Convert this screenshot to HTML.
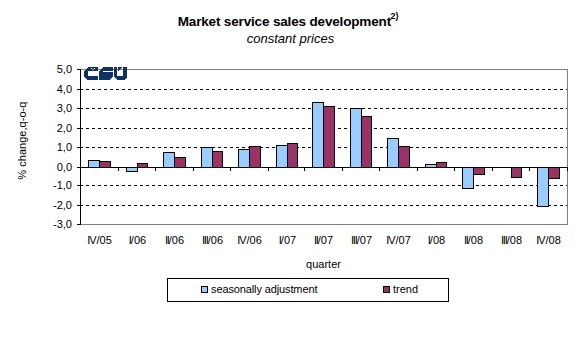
<!DOCTYPE html>
<html><head><meta charset="utf-8"><style>
html,body{margin:0;padding:0;background:#fff;}
body{width:576px;height:340px;position:relative;overflow:hidden;font-family:"Liberation Sans",sans-serif;color:#000;}
svg{position:absolute;left:0;top:0;}
.t{position:absolute;white-space:nowrap;}
#title{left:0.2px;width:576px;text-align:center;top:14px;font-size:13.5px;letter-spacing:-0.16px;font-weight:bold;line-height:16px;}
#title sup{font-size:9px;vertical-align:0;position:relative;top:-6.7px;left:-0.4px;}
#sub{left:2.5px;width:576px;text-align:center;top:30.7px;font-size:13px;font-style:italic;line-height:16px;}
.yl{position:absolute;right:504px;font-size:11px;line-height:14px;text-align:right;white-space:nowrap;}
.xl{position:absolute;top:233px;width:60px;text-align:center;font-size:11px;line-height:14px;white-space:nowrap;}
.ii{letter-spacing:-1.1px;}
#quarter{left:273.5px;width:100px;text-align:center;top:257px;font-size:11px;line-height:14px;}
#ytitle{left:22px;top:140.5px;font-size:11px;letter-spacing:0.07px;line-height:14px;transform:translate(-50%,-50%) rotate(-90deg);}
#legend{position:absolute;left:167px;top:278px;width:280px;height:22px;border:1px solid #000;}
.key{position:absolute;width:5px;height:5px;border:1px solid #000;}
.lt{position:absolute;font-size:11px;line-height:14px;white-space:nowrap;}
</style></head><body>
<svg width="576" height="340" viewBox="0 0 576 340" shape-rendering="crispEdges">
<rect x="81" y="69" width="487" height="1" fill="#808080"/>
<rect x="567" y="69" width="1" height="156" fill="#808080"/>
<rect x="81" y="224" width="487" height="1" fill="#808080"/>
<rect x="80" y="89" width="3" height="1" fill="#000"/>
<rect x="86" y="89" width="3" height="1" fill="#000"/>
<rect x="92" y="89" width="3" height="1" fill="#000"/>
<rect x="98" y="89" width="3" height="1" fill="#000"/>
<rect x="104" y="89" width="3" height="1" fill="#000"/>
<rect x="110" y="89" width="3" height="1" fill="#000"/>
<rect x="116" y="89" width="3" height="1" fill="#000"/>
<rect x="122" y="89" width="3" height="1" fill="#000"/>
<rect x="128" y="89" width="3" height="1" fill="#000"/>
<rect x="134" y="89" width="3" height="1" fill="#000"/>
<rect x="140" y="89" width="3" height="1" fill="#000"/>
<rect x="146" y="89" width="3" height="1" fill="#000"/>
<rect x="152" y="89" width="3" height="1" fill="#000"/>
<rect x="158" y="89" width="3" height="1" fill="#000"/>
<rect x="164" y="89" width="3" height="1" fill="#000"/>
<rect x="170" y="89" width="3" height="1" fill="#000"/>
<rect x="176" y="89" width="3" height="1" fill="#000"/>
<rect x="182" y="89" width="3" height="1" fill="#000"/>
<rect x="188" y="89" width="3" height="1" fill="#000"/>
<rect x="194" y="89" width="3" height="1" fill="#000"/>
<rect x="200" y="89" width="3" height="1" fill="#000"/>
<rect x="206" y="89" width="3" height="1" fill="#000"/>
<rect x="212" y="89" width="3" height="1" fill="#000"/>
<rect x="218" y="89" width="3" height="1" fill="#000"/>
<rect x="224" y="89" width="3" height="1" fill="#000"/>
<rect x="230" y="89" width="3" height="1" fill="#000"/>
<rect x="236" y="89" width="3" height="1" fill="#000"/>
<rect x="242" y="89" width="3" height="1" fill="#000"/>
<rect x="248" y="89" width="3" height="1" fill="#000"/>
<rect x="254" y="89" width="3" height="1" fill="#000"/>
<rect x="260" y="89" width="3" height="1" fill="#000"/>
<rect x="266" y="89" width="3" height="1" fill="#000"/>
<rect x="272" y="89" width="3" height="1" fill="#000"/>
<rect x="278" y="89" width="3" height="1" fill="#000"/>
<rect x="284" y="89" width="3" height="1" fill="#000"/>
<rect x="290" y="89" width="3" height="1" fill="#000"/>
<rect x="296" y="89" width="3" height="1" fill="#000"/>
<rect x="302" y="89" width="3" height="1" fill="#000"/>
<rect x="308" y="89" width="3" height="1" fill="#000"/>
<rect x="314" y="89" width="3" height="1" fill="#000"/>
<rect x="320" y="89" width="3" height="1" fill="#000"/>
<rect x="326" y="89" width="3" height="1" fill="#000"/>
<rect x="332" y="89" width="3" height="1" fill="#000"/>
<rect x="338" y="89" width="3" height="1" fill="#000"/>
<rect x="344" y="89" width="3" height="1" fill="#000"/>
<rect x="350" y="89" width="3" height="1" fill="#000"/>
<rect x="356" y="89" width="3" height="1" fill="#000"/>
<rect x="362" y="89" width="3" height="1" fill="#000"/>
<rect x="368" y="89" width="3" height="1" fill="#000"/>
<rect x="374" y="89" width="3" height="1" fill="#000"/>
<rect x="380" y="89" width="3" height="1" fill="#000"/>
<rect x="386" y="89" width="3" height="1" fill="#000"/>
<rect x="392" y="89" width="3" height="1" fill="#000"/>
<rect x="398" y="89" width="3" height="1" fill="#000"/>
<rect x="404" y="89" width="3" height="1" fill="#000"/>
<rect x="410" y="89" width="3" height="1" fill="#000"/>
<rect x="416" y="89" width="3" height="1" fill="#000"/>
<rect x="422" y="89" width="3" height="1" fill="#000"/>
<rect x="428" y="89" width="3" height="1" fill="#000"/>
<rect x="434" y="89" width="3" height="1" fill="#000"/>
<rect x="440" y="89" width="3" height="1" fill="#000"/>
<rect x="446" y="89" width="3" height="1" fill="#000"/>
<rect x="452" y="89" width="3" height="1" fill="#000"/>
<rect x="458" y="89" width="3" height="1" fill="#000"/>
<rect x="464" y="89" width="3" height="1" fill="#000"/>
<rect x="470" y="89" width="3" height="1" fill="#000"/>
<rect x="476" y="89" width="3" height="1" fill="#000"/>
<rect x="482" y="89" width="3" height="1" fill="#000"/>
<rect x="488" y="89" width="3" height="1" fill="#000"/>
<rect x="494" y="89" width="3" height="1" fill="#000"/>
<rect x="500" y="89" width="3" height="1" fill="#000"/>
<rect x="506" y="89" width="3" height="1" fill="#000"/>
<rect x="512" y="89" width="3" height="1" fill="#000"/>
<rect x="518" y="89" width="3" height="1" fill="#000"/>
<rect x="524" y="89" width="3" height="1" fill="#000"/>
<rect x="530" y="89" width="3" height="1" fill="#000"/>
<rect x="536" y="89" width="3" height="1" fill="#000"/>
<rect x="542" y="89" width="3" height="1" fill="#000"/>
<rect x="548" y="89" width="3" height="1" fill="#000"/>
<rect x="554" y="89" width="3" height="1" fill="#000"/>
<rect x="560" y="89" width="3" height="1" fill="#000"/>
<rect x="566" y="89" width="1" height="1" fill="#000"/>
<rect x="80" y="108" width="3" height="1" fill="#000"/>
<rect x="86" y="108" width="3" height="1" fill="#000"/>
<rect x="92" y="108" width="3" height="1" fill="#000"/>
<rect x="98" y="108" width="3" height="1" fill="#000"/>
<rect x="104" y="108" width="3" height="1" fill="#000"/>
<rect x="110" y="108" width="3" height="1" fill="#000"/>
<rect x="116" y="108" width="3" height="1" fill="#000"/>
<rect x="122" y="108" width="3" height="1" fill="#000"/>
<rect x="128" y="108" width="3" height="1" fill="#000"/>
<rect x="134" y="108" width="3" height="1" fill="#000"/>
<rect x="140" y="108" width="3" height="1" fill="#000"/>
<rect x="146" y="108" width="3" height="1" fill="#000"/>
<rect x="152" y="108" width="3" height="1" fill="#000"/>
<rect x="158" y="108" width="3" height="1" fill="#000"/>
<rect x="164" y="108" width="3" height="1" fill="#000"/>
<rect x="170" y="108" width="3" height="1" fill="#000"/>
<rect x="176" y="108" width="3" height="1" fill="#000"/>
<rect x="182" y="108" width="3" height="1" fill="#000"/>
<rect x="188" y="108" width="3" height="1" fill="#000"/>
<rect x="194" y="108" width="3" height="1" fill="#000"/>
<rect x="200" y="108" width="3" height="1" fill="#000"/>
<rect x="206" y="108" width="3" height="1" fill="#000"/>
<rect x="212" y="108" width="3" height="1" fill="#000"/>
<rect x="218" y="108" width="3" height="1" fill="#000"/>
<rect x="224" y="108" width="3" height="1" fill="#000"/>
<rect x="230" y="108" width="3" height="1" fill="#000"/>
<rect x="236" y="108" width="3" height="1" fill="#000"/>
<rect x="242" y="108" width="3" height="1" fill="#000"/>
<rect x="248" y="108" width="3" height="1" fill="#000"/>
<rect x="254" y="108" width="3" height="1" fill="#000"/>
<rect x="260" y="108" width="3" height="1" fill="#000"/>
<rect x="266" y="108" width="3" height="1" fill="#000"/>
<rect x="272" y="108" width="3" height="1" fill="#000"/>
<rect x="278" y="108" width="3" height="1" fill="#000"/>
<rect x="284" y="108" width="3" height="1" fill="#000"/>
<rect x="290" y="108" width="3" height="1" fill="#000"/>
<rect x="296" y="108" width="3" height="1" fill="#000"/>
<rect x="302" y="108" width="3" height="1" fill="#000"/>
<rect x="308" y="108" width="3" height="1" fill="#000"/>
<rect x="314" y="108" width="3" height="1" fill="#000"/>
<rect x="320" y="108" width="3" height="1" fill="#000"/>
<rect x="326" y="108" width="3" height="1" fill="#000"/>
<rect x="332" y="108" width="3" height="1" fill="#000"/>
<rect x="338" y="108" width="3" height="1" fill="#000"/>
<rect x="344" y="108" width="3" height="1" fill="#000"/>
<rect x="350" y="108" width="3" height="1" fill="#000"/>
<rect x="356" y="108" width="3" height="1" fill="#000"/>
<rect x="362" y="108" width="3" height="1" fill="#000"/>
<rect x="368" y="108" width="3" height="1" fill="#000"/>
<rect x="374" y="108" width="3" height="1" fill="#000"/>
<rect x="380" y="108" width="3" height="1" fill="#000"/>
<rect x="386" y="108" width="3" height="1" fill="#000"/>
<rect x="392" y="108" width="3" height="1" fill="#000"/>
<rect x="398" y="108" width="3" height="1" fill="#000"/>
<rect x="404" y="108" width="3" height="1" fill="#000"/>
<rect x="410" y="108" width="3" height="1" fill="#000"/>
<rect x="416" y="108" width="3" height="1" fill="#000"/>
<rect x="422" y="108" width="3" height="1" fill="#000"/>
<rect x="428" y="108" width="3" height="1" fill="#000"/>
<rect x="434" y="108" width="3" height="1" fill="#000"/>
<rect x="440" y="108" width="3" height="1" fill="#000"/>
<rect x="446" y="108" width="3" height="1" fill="#000"/>
<rect x="452" y="108" width="3" height="1" fill="#000"/>
<rect x="458" y="108" width="3" height="1" fill="#000"/>
<rect x="464" y="108" width="3" height="1" fill="#000"/>
<rect x="470" y="108" width="3" height="1" fill="#000"/>
<rect x="476" y="108" width="3" height="1" fill="#000"/>
<rect x="482" y="108" width="3" height="1" fill="#000"/>
<rect x="488" y="108" width="3" height="1" fill="#000"/>
<rect x="494" y="108" width="3" height="1" fill="#000"/>
<rect x="500" y="108" width="3" height="1" fill="#000"/>
<rect x="506" y="108" width="3" height="1" fill="#000"/>
<rect x="512" y="108" width="3" height="1" fill="#000"/>
<rect x="518" y="108" width="3" height="1" fill="#000"/>
<rect x="524" y="108" width="3" height="1" fill="#000"/>
<rect x="530" y="108" width="3" height="1" fill="#000"/>
<rect x="536" y="108" width="3" height="1" fill="#000"/>
<rect x="542" y="108" width="3" height="1" fill="#000"/>
<rect x="548" y="108" width="3" height="1" fill="#000"/>
<rect x="554" y="108" width="3" height="1" fill="#000"/>
<rect x="560" y="108" width="3" height="1" fill="#000"/>
<rect x="566" y="108" width="1" height="1" fill="#000"/>
<rect x="80" y="128" width="3" height="1" fill="#000"/>
<rect x="86" y="128" width="3" height="1" fill="#000"/>
<rect x="92" y="128" width="3" height="1" fill="#000"/>
<rect x="98" y="128" width="3" height="1" fill="#000"/>
<rect x="104" y="128" width="3" height="1" fill="#000"/>
<rect x="110" y="128" width="3" height="1" fill="#000"/>
<rect x="116" y="128" width="3" height="1" fill="#000"/>
<rect x="122" y="128" width="3" height="1" fill="#000"/>
<rect x="128" y="128" width="3" height="1" fill="#000"/>
<rect x="134" y="128" width="3" height="1" fill="#000"/>
<rect x="140" y="128" width="3" height="1" fill="#000"/>
<rect x="146" y="128" width="3" height="1" fill="#000"/>
<rect x="152" y="128" width="3" height="1" fill="#000"/>
<rect x="158" y="128" width="3" height="1" fill="#000"/>
<rect x="164" y="128" width="3" height="1" fill="#000"/>
<rect x="170" y="128" width="3" height="1" fill="#000"/>
<rect x="176" y="128" width="3" height="1" fill="#000"/>
<rect x="182" y="128" width="3" height="1" fill="#000"/>
<rect x="188" y="128" width="3" height="1" fill="#000"/>
<rect x="194" y="128" width="3" height="1" fill="#000"/>
<rect x="200" y="128" width="3" height="1" fill="#000"/>
<rect x="206" y="128" width="3" height="1" fill="#000"/>
<rect x="212" y="128" width="3" height="1" fill="#000"/>
<rect x="218" y="128" width="3" height="1" fill="#000"/>
<rect x="224" y="128" width="3" height="1" fill="#000"/>
<rect x="230" y="128" width="3" height="1" fill="#000"/>
<rect x="236" y="128" width="3" height="1" fill="#000"/>
<rect x="242" y="128" width="3" height="1" fill="#000"/>
<rect x="248" y="128" width="3" height="1" fill="#000"/>
<rect x="254" y="128" width="3" height="1" fill="#000"/>
<rect x="260" y="128" width="3" height="1" fill="#000"/>
<rect x="266" y="128" width="3" height="1" fill="#000"/>
<rect x="272" y="128" width="3" height="1" fill="#000"/>
<rect x="278" y="128" width="3" height="1" fill="#000"/>
<rect x="284" y="128" width="3" height="1" fill="#000"/>
<rect x="290" y="128" width="3" height="1" fill="#000"/>
<rect x="296" y="128" width="3" height="1" fill="#000"/>
<rect x="302" y="128" width="3" height="1" fill="#000"/>
<rect x="308" y="128" width="3" height="1" fill="#000"/>
<rect x="314" y="128" width="3" height="1" fill="#000"/>
<rect x="320" y="128" width="3" height="1" fill="#000"/>
<rect x="326" y="128" width="3" height="1" fill="#000"/>
<rect x="332" y="128" width="3" height="1" fill="#000"/>
<rect x="338" y="128" width="3" height="1" fill="#000"/>
<rect x="344" y="128" width="3" height="1" fill="#000"/>
<rect x="350" y="128" width="3" height="1" fill="#000"/>
<rect x="356" y="128" width="3" height="1" fill="#000"/>
<rect x="362" y="128" width="3" height="1" fill="#000"/>
<rect x="368" y="128" width="3" height="1" fill="#000"/>
<rect x="374" y="128" width="3" height="1" fill="#000"/>
<rect x="380" y="128" width="3" height="1" fill="#000"/>
<rect x="386" y="128" width="3" height="1" fill="#000"/>
<rect x="392" y="128" width="3" height="1" fill="#000"/>
<rect x="398" y="128" width="3" height="1" fill="#000"/>
<rect x="404" y="128" width="3" height="1" fill="#000"/>
<rect x="410" y="128" width="3" height="1" fill="#000"/>
<rect x="416" y="128" width="3" height="1" fill="#000"/>
<rect x="422" y="128" width="3" height="1" fill="#000"/>
<rect x="428" y="128" width="3" height="1" fill="#000"/>
<rect x="434" y="128" width="3" height="1" fill="#000"/>
<rect x="440" y="128" width="3" height="1" fill="#000"/>
<rect x="446" y="128" width="3" height="1" fill="#000"/>
<rect x="452" y="128" width="3" height="1" fill="#000"/>
<rect x="458" y="128" width="3" height="1" fill="#000"/>
<rect x="464" y="128" width="3" height="1" fill="#000"/>
<rect x="470" y="128" width="3" height="1" fill="#000"/>
<rect x="476" y="128" width="3" height="1" fill="#000"/>
<rect x="482" y="128" width="3" height="1" fill="#000"/>
<rect x="488" y="128" width="3" height="1" fill="#000"/>
<rect x="494" y="128" width="3" height="1" fill="#000"/>
<rect x="500" y="128" width="3" height="1" fill="#000"/>
<rect x="506" y="128" width="3" height="1" fill="#000"/>
<rect x="512" y="128" width="3" height="1" fill="#000"/>
<rect x="518" y="128" width="3" height="1" fill="#000"/>
<rect x="524" y="128" width="3" height="1" fill="#000"/>
<rect x="530" y="128" width="3" height="1" fill="#000"/>
<rect x="536" y="128" width="3" height="1" fill="#000"/>
<rect x="542" y="128" width="3" height="1" fill="#000"/>
<rect x="548" y="128" width="3" height="1" fill="#000"/>
<rect x="554" y="128" width="3" height="1" fill="#000"/>
<rect x="560" y="128" width="3" height="1" fill="#000"/>
<rect x="566" y="128" width="1" height="1" fill="#000"/>
<rect x="80" y="147" width="3" height="1" fill="#000"/>
<rect x="86" y="147" width="3" height="1" fill="#000"/>
<rect x="92" y="147" width="3" height="1" fill="#000"/>
<rect x="98" y="147" width="3" height="1" fill="#000"/>
<rect x="104" y="147" width="3" height="1" fill="#000"/>
<rect x="110" y="147" width="3" height="1" fill="#000"/>
<rect x="116" y="147" width="3" height="1" fill="#000"/>
<rect x="122" y="147" width="3" height="1" fill="#000"/>
<rect x="128" y="147" width="3" height="1" fill="#000"/>
<rect x="134" y="147" width="3" height="1" fill="#000"/>
<rect x="140" y="147" width="3" height="1" fill="#000"/>
<rect x="146" y="147" width="3" height="1" fill="#000"/>
<rect x="152" y="147" width="3" height="1" fill="#000"/>
<rect x="158" y="147" width="3" height="1" fill="#000"/>
<rect x="164" y="147" width="3" height="1" fill="#000"/>
<rect x="170" y="147" width="3" height="1" fill="#000"/>
<rect x="176" y="147" width="3" height="1" fill="#000"/>
<rect x="182" y="147" width="3" height="1" fill="#000"/>
<rect x="188" y="147" width="3" height="1" fill="#000"/>
<rect x="194" y="147" width="3" height="1" fill="#000"/>
<rect x="200" y="147" width="3" height="1" fill="#000"/>
<rect x="206" y="147" width="3" height="1" fill="#000"/>
<rect x="212" y="147" width="3" height="1" fill="#000"/>
<rect x="218" y="147" width="3" height="1" fill="#000"/>
<rect x="224" y="147" width="3" height="1" fill="#000"/>
<rect x="230" y="147" width="3" height="1" fill="#000"/>
<rect x="236" y="147" width="3" height="1" fill="#000"/>
<rect x="242" y="147" width="3" height="1" fill="#000"/>
<rect x="248" y="147" width="3" height="1" fill="#000"/>
<rect x="254" y="147" width="3" height="1" fill="#000"/>
<rect x="260" y="147" width="3" height="1" fill="#000"/>
<rect x="266" y="147" width="3" height="1" fill="#000"/>
<rect x="272" y="147" width="3" height="1" fill="#000"/>
<rect x="278" y="147" width="3" height="1" fill="#000"/>
<rect x="284" y="147" width="3" height="1" fill="#000"/>
<rect x="290" y="147" width="3" height="1" fill="#000"/>
<rect x="296" y="147" width="3" height="1" fill="#000"/>
<rect x="302" y="147" width="3" height="1" fill="#000"/>
<rect x="308" y="147" width="3" height="1" fill="#000"/>
<rect x="314" y="147" width="3" height="1" fill="#000"/>
<rect x="320" y="147" width="3" height="1" fill="#000"/>
<rect x="326" y="147" width="3" height="1" fill="#000"/>
<rect x="332" y="147" width="3" height="1" fill="#000"/>
<rect x="338" y="147" width="3" height="1" fill="#000"/>
<rect x="344" y="147" width="3" height="1" fill="#000"/>
<rect x="350" y="147" width="3" height="1" fill="#000"/>
<rect x="356" y="147" width="3" height="1" fill="#000"/>
<rect x="362" y="147" width="3" height="1" fill="#000"/>
<rect x="368" y="147" width="3" height="1" fill="#000"/>
<rect x="374" y="147" width="3" height="1" fill="#000"/>
<rect x="380" y="147" width="3" height="1" fill="#000"/>
<rect x="386" y="147" width="3" height="1" fill="#000"/>
<rect x="392" y="147" width="3" height="1" fill="#000"/>
<rect x="398" y="147" width="3" height="1" fill="#000"/>
<rect x="404" y="147" width="3" height="1" fill="#000"/>
<rect x="410" y="147" width="3" height="1" fill="#000"/>
<rect x="416" y="147" width="3" height="1" fill="#000"/>
<rect x="422" y="147" width="3" height="1" fill="#000"/>
<rect x="428" y="147" width="3" height="1" fill="#000"/>
<rect x="434" y="147" width="3" height="1" fill="#000"/>
<rect x="440" y="147" width="3" height="1" fill="#000"/>
<rect x="446" y="147" width="3" height="1" fill="#000"/>
<rect x="452" y="147" width="3" height="1" fill="#000"/>
<rect x="458" y="147" width="3" height="1" fill="#000"/>
<rect x="464" y="147" width="3" height="1" fill="#000"/>
<rect x="470" y="147" width="3" height="1" fill="#000"/>
<rect x="476" y="147" width="3" height="1" fill="#000"/>
<rect x="482" y="147" width="3" height="1" fill="#000"/>
<rect x="488" y="147" width="3" height="1" fill="#000"/>
<rect x="494" y="147" width="3" height="1" fill="#000"/>
<rect x="500" y="147" width="3" height="1" fill="#000"/>
<rect x="506" y="147" width="3" height="1" fill="#000"/>
<rect x="512" y="147" width="3" height="1" fill="#000"/>
<rect x="518" y="147" width="3" height="1" fill="#000"/>
<rect x="524" y="147" width="3" height="1" fill="#000"/>
<rect x="530" y="147" width="3" height="1" fill="#000"/>
<rect x="536" y="147" width="3" height="1" fill="#000"/>
<rect x="542" y="147" width="3" height="1" fill="#000"/>
<rect x="548" y="147" width="3" height="1" fill="#000"/>
<rect x="554" y="147" width="3" height="1" fill="#000"/>
<rect x="560" y="147" width="3" height="1" fill="#000"/>
<rect x="566" y="147" width="1" height="1" fill="#000"/>
<rect x="80" y="185" width="3" height="1" fill="#000"/>
<rect x="86" y="185" width="3" height="1" fill="#000"/>
<rect x="92" y="185" width="3" height="1" fill="#000"/>
<rect x="98" y="185" width="3" height="1" fill="#000"/>
<rect x="104" y="185" width="3" height="1" fill="#000"/>
<rect x="110" y="185" width="3" height="1" fill="#000"/>
<rect x="116" y="185" width="3" height="1" fill="#000"/>
<rect x="122" y="185" width="3" height="1" fill="#000"/>
<rect x="128" y="185" width="3" height="1" fill="#000"/>
<rect x="134" y="185" width="3" height="1" fill="#000"/>
<rect x="140" y="185" width="3" height="1" fill="#000"/>
<rect x="146" y="185" width="3" height="1" fill="#000"/>
<rect x="152" y="185" width="3" height="1" fill="#000"/>
<rect x="158" y="185" width="3" height="1" fill="#000"/>
<rect x="164" y="185" width="3" height="1" fill="#000"/>
<rect x="170" y="185" width="3" height="1" fill="#000"/>
<rect x="176" y="185" width="3" height="1" fill="#000"/>
<rect x="182" y="185" width="3" height="1" fill="#000"/>
<rect x="188" y="185" width="3" height="1" fill="#000"/>
<rect x="194" y="185" width="3" height="1" fill="#000"/>
<rect x="200" y="185" width="3" height="1" fill="#000"/>
<rect x="206" y="185" width="3" height="1" fill="#000"/>
<rect x="212" y="185" width="3" height="1" fill="#000"/>
<rect x="218" y="185" width="3" height="1" fill="#000"/>
<rect x="224" y="185" width="3" height="1" fill="#000"/>
<rect x="230" y="185" width="3" height="1" fill="#000"/>
<rect x="236" y="185" width="3" height="1" fill="#000"/>
<rect x="242" y="185" width="3" height="1" fill="#000"/>
<rect x="248" y="185" width="3" height="1" fill="#000"/>
<rect x="254" y="185" width="3" height="1" fill="#000"/>
<rect x="260" y="185" width="3" height="1" fill="#000"/>
<rect x="266" y="185" width="3" height="1" fill="#000"/>
<rect x="272" y="185" width="3" height="1" fill="#000"/>
<rect x="278" y="185" width="3" height="1" fill="#000"/>
<rect x="284" y="185" width="3" height="1" fill="#000"/>
<rect x="290" y="185" width="3" height="1" fill="#000"/>
<rect x="296" y="185" width="3" height="1" fill="#000"/>
<rect x="302" y="185" width="3" height="1" fill="#000"/>
<rect x="308" y="185" width="3" height="1" fill="#000"/>
<rect x="314" y="185" width="3" height="1" fill="#000"/>
<rect x="320" y="185" width="3" height="1" fill="#000"/>
<rect x="326" y="185" width="3" height="1" fill="#000"/>
<rect x="332" y="185" width="3" height="1" fill="#000"/>
<rect x="338" y="185" width="3" height="1" fill="#000"/>
<rect x="344" y="185" width="3" height="1" fill="#000"/>
<rect x="350" y="185" width="3" height="1" fill="#000"/>
<rect x="356" y="185" width="3" height="1" fill="#000"/>
<rect x="362" y="185" width="3" height="1" fill="#000"/>
<rect x="368" y="185" width="3" height="1" fill="#000"/>
<rect x="374" y="185" width="3" height="1" fill="#000"/>
<rect x="380" y="185" width="3" height="1" fill="#000"/>
<rect x="386" y="185" width="3" height="1" fill="#000"/>
<rect x="392" y="185" width="3" height="1" fill="#000"/>
<rect x="398" y="185" width="3" height="1" fill="#000"/>
<rect x="404" y="185" width="3" height="1" fill="#000"/>
<rect x="410" y="185" width="3" height="1" fill="#000"/>
<rect x="416" y="185" width="3" height="1" fill="#000"/>
<rect x="422" y="185" width="3" height="1" fill="#000"/>
<rect x="428" y="185" width="3" height="1" fill="#000"/>
<rect x="434" y="185" width="3" height="1" fill="#000"/>
<rect x="440" y="185" width="3" height="1" fill="#000"/>
<rect x="446" y="185" width="3" height="1" fill="#000"/>
<rect x="452" y="185" width="3" height="1" fill="#000"/>
<rect x="458" y="185" width="3" height="1" fill="#000"/>
<rect x="464" y="185" width="3" height="1" fill="#000"/>
<rect x="470" y="185" width="3" height="1" fill="#000"/>
<rect x="476" y="185" width="3" height="1" fill="#000"/>
<rect x="482" y="185" width="3" height="1" fill="#000"/>
<rect x="488" y="185" width="3" height="1" fill="#000"/>
<rect x="494" y="185" width="3" height="1" fill="#000"/>
<rect x="500" y="185" width="3" height="1" fill="#000"/>
<rect x="506" y="185" width="3" height="1" fill="#000"/>
<rect x="512" y="185" width="3" height="1" fill="#000"/>
<rect x="518" y="185" width="3" height="1" fill="#000"/>
<rect x="524" y="185" width="3" height="1" fill="#000"/>
<rect x="530" y="185" width="3" height="1" fill="#000"/>
<rect x="536" y="185" width="3" height="1" fill="#000"/>
<rect x="542" y="185" width="3" height="1" fill="#000"/>
<rect x="548" y="185" width="3" height="1" fill="#000"/>
<rect x="554" y="185" width="3" height="1" fill="#000"/>
<rect x="560" y="185" width="3" height="1" fill="#000"/>
<rect x="566" y="185" width="1" height="1" fill="#000"/>
<rect x="80" y="205" width="3" height="1" fill="#000"/>
<rect x="86" y="205" width="3" height="1" fill="#000"/>
<rect x="92" y="205" width="3" height="1" fill="#000"/>
<rect x="98" y="205" width="3" height="1" fill="#000"/>
<rect x="104" y="205" width="3" height="1" fill="#000"/>
<rect x="110" y="205" width="3" height="1" fill="#000"/>
<rect x="116" y="205" width="3" height="1" fill="#000"/>
<rect x="122" y="205" width="3" height="1" fill="#000"/>
<rect x="128" y="205" width="3" height="1" fill="#000"/>
<rect x="134" y="205" width="3" height="1" fill="#000"/>
<rect x="140" y="205" width="3" height="1" fill="#000"/>
<rect x="146" y="205" width="3" height="1" fill="#000"/>
<rect x="152" y="205" width="3" height="1" fill="#000"/>
<rect x="158" y="205" width="3" height="1" fill="#000"/>
<rect x="164" y="205" width="3" height="1" fill="#000"/>
<rect x="170" y="205" width="3" height="1" fill="#000"/>
<rect x="176" y="205" width="3" height="1" fill="#000"/>
<rect x="182" y="205" width="3" height="1" fill="#000"/>
<rect x="188" y="205" width="3" height="1" fill="#000"/>
<rect x="194" y="205" width="3" height="1" fill="#000"/>
<rect x="200" y="205" width="3" height="1" fill="#000"/>
<rect x="206" y="205" width="3" height="1" fill="#000"/>
<rect x="212" y="205" width="3" height="1" fill="#000"/>
<rect x="218" y="205" width="3" height="1" fill="#000"/>
<rect x="224" y="205" width="3" height="1" fill="#000"/>
<rect x="230" y="205" width="3" height="1" fill="#000"/>
<rect x="236" y="205" width="3" height="1" fill="#000"/>
<rect x="242" y="205" width="3" height="1" fill="#000"/>
<rect x="248" y="205" width="3" height="1" fill="#000"/>
<rect x="254" y="205" width="3" height="1" fill="#000"/>
<rect x="260" y="205" width="3" height="1" fill="#000"/>
<rect x="266" y="205" width="3" height="1" fill="#000"/>
<rect x="272" y="205" width="3" height="1" fill="#000"/>
<rect x="278" y="205" width="3" height="1" fill="#000"/>
<rect x="284" y="205" width="3" height="1" fill="#000"/>
<rect x="290" y="205" width="3" height="1" fill="#000"/>
<rect x="296" y="205" width="3" height="1" fill="#000"/>
<rect x="302" y="205" width="3" height="1" fill="#000"/>
<rect x="308" y="205" width="3" height="1" fill="#000"/>
<rect x="314" y="205" width="3" height="1" fill="#000"/>
<rect x="320" y="205" width="3" height="1" fill="#000"/>
<rect x="326" y="205" width="3" height="1" fill="#000"/>
<rect x="332" y="205" width="3" height="1" fill="#000"/>
<rect x="338" y="205" width="3" height="1" fill="#000"/>
<rect x="344" y="205" width="3" height="1" fill="#000"/>
<rect x="350" y="205" width="3" height="1" fill="#000"/>
<rect x="356" y="205" width="3" height="1" fill="#000"/>
<rect x="362" y="205" width="3" height="1" fill="#000"/>
<rect x="368" y="205" width="3" height="1" fill="#000"/>
<rect x="374" y="205" width="3" height="1" fill="#000"/>
<rect x="380" y="205" width="3" height="1" fill="#000"/>
<rect x="386" y="205" width="3" height="1" fill="#000"/>
<rect x="392" y="205" width="3" height="1" fill="#000"/>
<rect x="398" y="205" width="3" height="1" fill="#000"/>
<rect x="404" y="205" width="3" height="1" fill="#000"/>
<rect x="410" y="205" width="3" height="1" fill="#000"/>
<rect x="416" y="205" width="3" height="1" fill="#000"/>
<rect x="422" y="205" width="3" height="1" fill="#000"/>
<rect x="428" y="205" width="3" height="1" fill="#000"/>
<rect x="434" y="205" width="3" height="1" fill="#000"/>
<rect x="440" y="205" width="3" height="1" fill="#000"/>
<rect x="446" y="205" width="3" height="1" fill="#000"/>
<rect x="452" y="205" width="3" height="1" fill="#000"/>
<rect x="458" y="205" width="3" height="1" fill="#000"/>
<rect x="464" y="205" width="3" height="1" fill="#000"/>
<rect x="470" y="205" width="3" height="1" fill="#000"/>
<rect x="476" y="205" width="3" height="1" fill="#000"/>
<rect x="482" y="205" width="3" height="1" fill="#000"/>
<rect x="488" y="205" width="3" height="1" fill="#000"/>
<rect x="494" y="205" width="3" height="1" fill="#000"/>
<rect x="500" y="205" width="3" height="1" fill="#000"/>
<rect x="506" y="205" width="3" height="1" fill="#000"/>
<rect x="512" y="205" width="3" height="1" fill="#000"/>
<rect x="518" y="205" width="3" height="1" fill="#000"/>
<rect x="524" y="205" width="3" height="1" fill="#000"/>
<rect x="530" y="205" width="3" height="1" fill="#000"/>
<rect x="536" y="205" width="3" height="1" fill="#000"/>
<rect x="542" y="205" width="3" height="1" fill="#000"/>
<rect x="548" y="205" width="3" height="1" fill="#000"/>
<rect x="554" y="205" width="3" height="1" fill="#000"/>
<rect x="560" y="205" width="3" height="1" fill="#000"/>
<rect x="566" y="205" width="1" height="1" fill="#000"/>
<rect x="88" y="160" width="12" height="8" fill="#000"/>
<rect x="89" y="161" width="10" height="6" fill="#99CCFF"/>
<rect x="99" y="161" width="12" height="7" fill="#000"/>
<rect x="100" y="162" width="10" height="5" fill="#993366"/>
<rect x="126" y="167" width="12" height="5" fill="#000"/>
<rect x="127" y="168" width="10" height="3" fill="#99CCFF"/>
<rect x="137" y="163" width="11" height="5" fill="#000"/>
<rect x="138" y="164" width="9" height="3" fill="#993366"/>
<rect x="163" y="152" width="12" height="16" fill="#000"/>
<rect x="164" y="153" width="10" height="14" fill="#99CCFF"/>
<rect x="174" y="157" width="12" height="11" fill="#000"/>
<rect x="175" y="158" width="10" height="9" fill="#993366"/>
<rect x="201" y="147" width="12" height="21" fill="#000"/>
<rect x="202" y="148" width="10" height="19" fill="#99CCFF"/>
<rect x="212" y="151" width="11" height="17" fill="#000"/>
<rect x="213" y="152" width="9" height="15" fill="#993366"/>
<rect x="238" y="149" width="12" height="19" fill="#000"/>
<rect x="239" y="150" width="10" height="17" fill="#99CCFF"/>
<rect x="249" y="146" width="12" height="22" fill="#000"/>
<rect x="250" y="147" width="10" height="20" fill="#993366"/>
<rect x="276" y="145" width="12" height="23" fill="#000"/>
<rect x="277" y="146" width="10" height="21" fill="#99CCFF"/>
<rect x="287" y="143" width="11" height="25" fill="#000"/>
<rect x="288" y="144" width="9" height="23" fill="#993366"/>
<rect x="312" y="102" width="12" height="66" fill="#000"/>
<rect x="313" y="103" width="10" height="64" fill="#99CCFF"/>
<rect x="323" y="106" width="12" height="62" fill="#000"/>
<rect x="324" y="107" width="10" height="60" fill="#993366"/>
<rect x="350" y="108" width="12" height="60" fill="#000"/>
<rect x="351" y="109" width="10" height="58" fill="#99CCFF"/>
<rect x="361" y="116" width="11" height="52" fill="#000"/>
<rect x="362" y="117" width="9" height="50" fill="#993366"/>
<rect x="387" y="138" width="12" height="30" fill="#000"/>
<rect x="388" y="139" width="10" height="28" fill="#99CCFF"/>
<rect x="398" y="146" width="12" height="22" fill="#000"/>
<rect x="399" y="147" width="10" height="20" fill="#993366"/>
<rect x="425" y="164" width="12" height="4" fill="#000"/>
<rect x="426" y="165" width="10" height="2" fill="#99CCFF"/>
<rect x="436" y="162" width="11" height="6" fill="#000"/>
<rect x="437" y="163" width="9" height="4" fill="#993366"/>
<rect x="462" y="167" width="12" height="22" fill="#000"/>
<rect x="463" y="168" width="10" height="20" fill="#99CCFF"/>
<rect x="473" y="167" width="12" height="8" fill="#000"/>
<rect x="474" y="168" width="10" height="6" fill="#993366"/>
<rect x="511" y="167" width="11" height="11" fill="#000"/>
<rect x="512" y="168" width="9" height="9" fill="#993366"/>
<rect x="537" y="167" width="12" height="40" fill="#000"/>
<rect x="538" y="168" width="10" height="38" fill="#99CCFF"/>
<rect x="548" y="167" width="12" height="12" fill="#000"/>
<rect x="549" y="168" width="10" height="10" fill="#993366"/>
<rect x="80" y="167" width="488" height="1" fill="#000"/>
<rect x="118" y="168" width="1" height="3" fill="#000"/>
<rect x="155" y="168" width="1" height="3" fill="#000"/>
<rect x="193" y="168" width="1" height="3" fill="#000"/>
<rect x="230" y="168" width="1" height="3" fill="#000"/>
<rect x="268" y="168" width="1" height="3" fill="#000"/>
<rect x="304" y="168" width="1" height="3" fill="#000"/>
<rect x="342" y="168" width="1" height="3" fill="#000"/>
<rect x="379" y="168" width="1" height="3" fill="#000"/>
<rect x="417" y="168" width="1" height="3" fill="#000"/>
<rect x="454" y="168" width="1" height="3" fill="#000"/>
<rect x="492" y="168" width="1" height="3" fill="#000"/>
<rect x="529" y="168" width="1" height="3" fill="#000"/>
<rect x="567" y="168" width="1" height="3" fill="#000"/>
<rect x="80" y="69" width="1" height="156" fill="#000"/>
<rect x="77" y="69" width="3" height="1" fill="#000"/>
<rect x="77" y="89" width="3" height="1" fill="#000"/>
<rect x="77" y="108" width="3" height="1" fill="#000"/>
<rect x="77" y="128" width="3" height="1" fill="#000"/>
<rect x="77" y="147" width="3" height="1" fill="#000"/>
<rect x="77" y="167" width="3" height="1" fill="#000"/>
<rect x="77" y="185" width="3" height="1" fill="#000"/>
<rect x="77" y="205" width="3" height="1" fill="#000"/>
<rect x="77" y="224" width="3" height="1" fill="#000"/>
</svg>
<svg class="logo" width="576" height="340" viewBox="0 0 576 340" shape-rendering="crispEdges">
<g fill="#0F3166">
<polygon points="88,67 98,67 98,71 88,71 88,76 98,76 98,80 87,80 84,77 84,71"/>
<polygon points="103,67 113,67 113,71 103,71 103,72 113,72 113,76 109,80 99,80 99,71"/>
<polygon points="114,67 117,67 117,76 123,76 123,67 127,67 127,77 124,80 117,80 114,77"/>
<polygon points="118,67 122,67 118,71"/>
</g>
<g fill="#ffffff"><rect x="91" y="68" width="1" height="1"/><rect x="94" y="68" width="1" height="1"/></g>
<rect x="92" y="69" width="2" height="1" fill="#a8a08a"/>
</svg>
<div class="t" id="title">Market service sales development<sup>2)</sup></div>
<div class="t" id="sub">constant prices</div>
<div class="yl" style="top:62px">5,0</div><div class="yl" style="top:82px">4,0</div><div class="yl" style="top:101px">3,0</div><div class="yl" style="top:121px">2,0</div><div class="yl" style="top:140px">1,0</div><div class="yl" style="top:160px">0,0</div><div class="yl" style="top:178px">-1,0</div><div class="yl" style="top:198px">-2,0</div><div class="yl" style="top:217px">-3,0</div>
<div class="xl" style="left:69.5px"><span class="ii">I</span>V/05</div><div class="xl" style="left:107.5px"><span class="ii">I</span>/06</div><div class="xl" style="left:144.5px"><span class="ii">II</span>/06</div><div class="xl" style="left:182.5px"><span class="ii">III</span>/06</div><div class="xl" style="left:219.5px"><span class="ii">I</span>V/06</div><div class="xl" style="left:257.5px"><span class="ii">I</span>/07</div><div class="xl" style="left:293.5px"><span class="ii">II</span>/07</div><div class="xl" style="left:331.5px"><span class="ii">III</span>/07</div><div class="xl" style="left:368.5px"><span class="ii">I</span>V/07</div><div class="xl" style="left:406.5px"><span class="ii">I</span>/08</div><div class="xl" style="left:443.5px"><span class="ii">II</span>/08</div><div class="xl" style="left:481.5px"><span class="ii">III</span>/08</div><div class="xl" style="left:518.5px"><span class="ii">I</span>V/08</div>
<div class="t" id="quarter">quarter</div>
<svg width="576" height="340" style="position:absolute;left:0;top:0"><text x="-179.7" y="26" transform="rotate(-90)" font-family="Liberation Sans" font-size="11" letter-spacing="0.03">% change,q-o-q</text></svg>
<div id="legend"></div>
<div class="key" style="left:201px;top:286px;background:#99CCFF"></div>
<div class="lt" style="left:211px;top:282.3px;letter-spacing:-0.12px">seasonally adjustment</div>
<div class="key" style="left:383px;top:286px;background:#993366"></div>
<div class="lt" style="left:393px;top:282.3px">trend</div>
</body></html>
